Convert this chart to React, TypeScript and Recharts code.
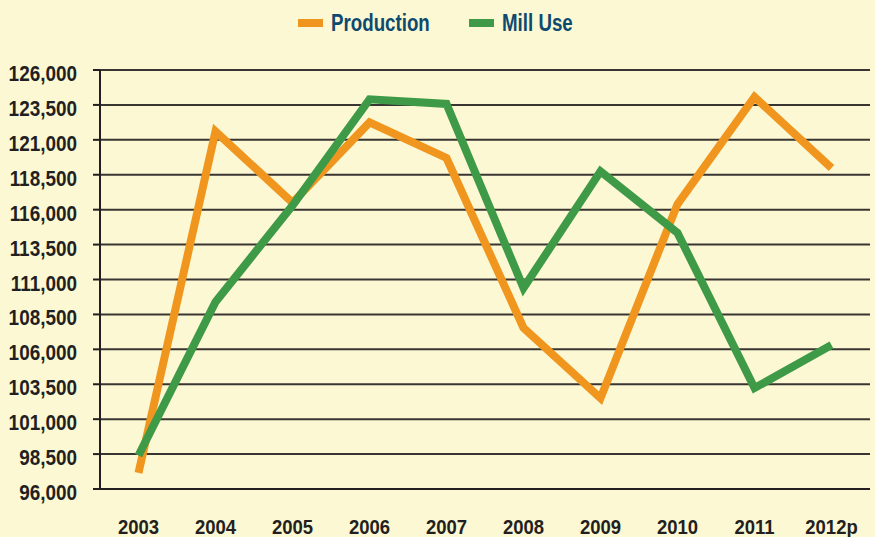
import { LineChart, Line, XAxis, YAxis, CartesianGrid } from 'recharts';

const years = ['2003', '2004', '2005', '2006', '2007', '2008', '2009', '2010', '2011', '2012p'];
const production = [97150, 121600, 116500, 122250, 119700, 107530, 102500, 116400, 124070, 118980];
const millUse = [98400, 109390, 116300, 123900, 123570, 110390, 118750, 114340, 103230, 106310];
const yTicks = [96000, 98500, 101000, 103500, 106000, 108500, 111000, 113500, 116000, 118500, 121000, 123500, 126000];

const data = years.map((year, i) => ({ year, production: production[i], millUse: millUse[i] }));
const edgeTicks = years.map((_, i) => i).concat(years.length);

// condensed look: Arial metrics squeezed horizontally
const FONT = "'Liberation Sans', Arial, sans-serif";
const INK = '#231f20';
const ORANGE = '#f0961f';
const GREEN = '#3e9a47';
const BG = '#fcf8d3';

function YTick({ x, y, payload }: any) {
  return (
    <g transform={`translate(${x},${y}) scale(0.88,1)`}>
      <text x={0} y={11} textAnchor="end" fontFamily={FONT} fontWeight="bold" fontSize={21.5} fill={INK}>
        {Number(payload.value).toLocaleString('en-US')}
      </text>
    </g>
  );
}

function XTick({ x, y, payload }: any) {
  return (
    <g transform={`translate(${x},${y}) scale(0.88,1)`}>
      <text x={0} y={38} textAnchor="middle" fontFamily={FONT} fontWeight="bold" fontSize={21} fill={INK}>
        {payload.value}
      </text>
    </g>
  );
}

function LegendItem({ x, color, label }: { x: number; color: string; label: string }) {
  return (
    <g>
      <rect x={x} y={19} width={25} height={8} fill={color} />
      <g transform={`translate(${x + 33},31) scale(0.78,1)`}>
        <text x={0} y={0} fontFamily={FONT} fontWeight="bold" fontSize={24} fill="#0e4a6f">{label}</text>
      </g>
    </g>
  );
}

export default function App() {
  return (
    <div style={{ position: 'absolute', left: 0, top: 0, width: 875, height: 537, background: BG }}>
      <svg width={875} height={50} style={{ position: 'absolute', left: 0, top: 0 }}>
        <LegendItem x={298} color={ORANGE} label="Production" />
        <LegendItem x={469} color={GREEN} label="Mill Use" />
      </svg>
      <LineChart width={875} height={537} data={data} margin={{ top: 70, right: 5, left: 0, bottom: 0 }}>
        <CartesianGrid horizontal vertical={false} stroke={INK} strokeWidth={2} strokeOpacity={0.9} />
        {/* id 0 is laid out first, so the boundary ticks sit right on the plot edge */}
        <XAxis
          type="number"
          domain={[0, years.length]}
          ticks={edgeTicks}
          allowDataOverflow
          tick={false}
          tickSize={7}
          height={7}
          stroke={INK}
          strokeWidth={2}
        />
        <XAxis
          xAxisId="years"
          dataKey="year"
          padding={{ left: 38.5, right: 38.5 }}
          axisLine={false}
          tickLine={false}
          tickSize={0}
          tickMargin={0}
          height={41}
          interval={0}
          tick={<XTick />}
        />
        <YAxis
          domain={[96000, 126000]}
          ticks={yTicks}
          width={100}
          tickSize={7}
          tickMargin={16}
          interval={0}
          stroke={INK}
          strokeWidth={2}
          tick={<YTick />}
        />
        <Line
          xAxisId="years"
          type="linear"
          dataKey="production"
          stroke={ORANGE}
          strokeWidth={8}
          strokeLinejoin="miter"
          strokeLinecap="butt"
          dot={false}
          activeDot={false}
          isAnimationActive={false}
        />
        <Line
          xAxisId="years"
          type="linear"
          dataKey="millUse"
          stroke={GREEN}
          strokeWidth={8}
          strokeLinejoin="miter"
          strokeLinecap="butt"
          dot={false}
          activeDot={false}
          isAnimationActive={false}
        />
      </LineChart>
    </div>
  );
}
